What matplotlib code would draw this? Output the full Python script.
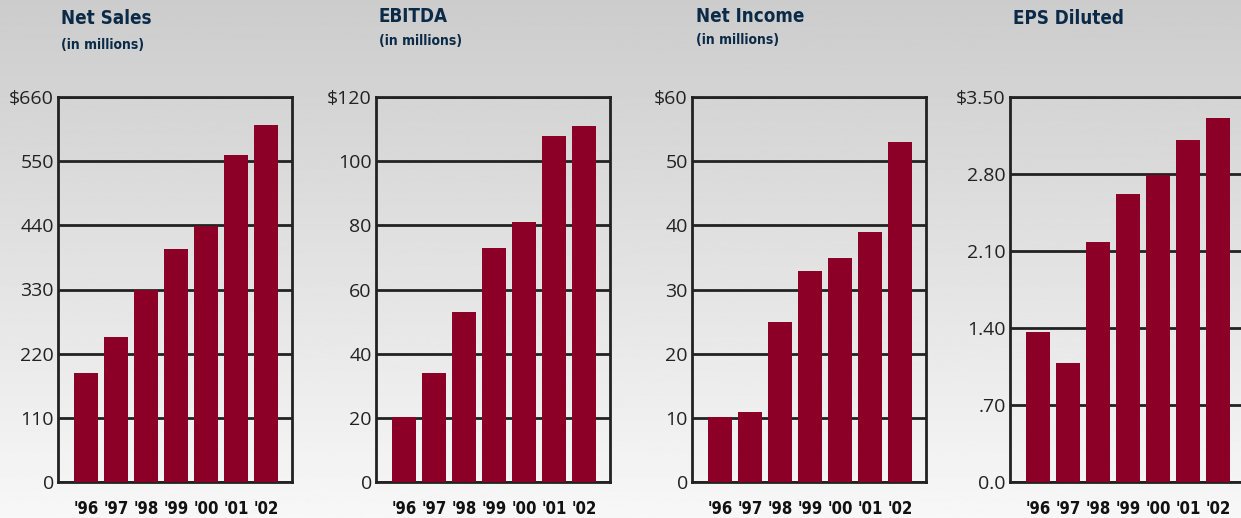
import numpy as np
import matplotlib
matplotlib.use("Agg")
import matplotlib.pyplot as plt

years = ["'96", "'97", "'98", "'99", "'00", "'01", "'02"]
net_sales = [187, 249, 329, 400, 439, 561, 612]
ebitda = [20.3, 34, 53, 73, 81, 108, 111]
net_income = [10.1, 10.9, 24.9, 32.9, 34.9, 39, 53]
eps = [1.36, 1.08, 2.18, 2.62, 2.79, 3.11, 3.31]

sales_ticks = [0, 110, 220, 330, 440, 550, 660]
sales_labels = ["0", "110", "220", "330", "440", "550", "$660"]
ebitda_ticks = [0, 20, 40, 60, 80, 100, 120]
ebitda_labels = ["0", "20", "40", "60", "80", "100", "$120"]
income_ticks = [0, 10, 20, 30, 40, 50, 60]
income_labels = ["0", "10", "20", "30", "40", "50", "$60"]
eps_ticks = [0, 0.7, 1.4, 2.1, 2.8, 3.5]
eps_labels = ["0.0", ".70", "1.40", "2.10", "2.80", "$3.50"]

titles = ["Net Sales", "EBITDA", "Net Income", "EPS Diluted"]
subtitles = ["(in millions)", "(in millions)", "(in millions)", None]

BAR = "#8c0028"
INK = "#222222"
NAVY = "#0b2a47"
W, H = 1241, 518
NARROW = dict(family="DejaVu Sans", stretch="condensed", weight="bold")

fig = plt.figure(figsize=(W / 100, H / 100), dpi=100)

# grey backdrop, darker at the top
bg = fig.add_axes([0, 0, 1, 1], zorder=-10)
grad = np.linspace(0.80, 0.97, 256).reshape(-1, 1)
bg.imshow(grad, cmap="gray", vmin=0, vmax=1, aspect="auto", extent=[0, 1, 0, 1])
bg.axis("off")

panels = [
    (58, net_sales, sales_ticks, sales_labels, 61, 18, 45),
    (376, ebitda, ebitda_ticks, ebitda_labels, 379, 17, 41),
    (692, net_income, income_ticks, income_labels, 696, 17, 40),
    (1010, eps, eps_ticks, eps_labels, 1013, 18, None),
]

for i, (left, vals, ticks, labels, tx, ty, sy) in enumerate(panels):
    ax = fig.add_axes([left / W, (H - 482) / H, 234 / W, 385 / H])
    ax.patch.set_alpha(0)
    x = np.arange(len(years))
    ax.bar(x, vals, width=0.8, color=BAR, zorder=3)
    ax.set_xlim(-0.93, 6.87)
    ax.set_ylim(ticks[0], ticks[-1])
    ax.set_yticks(ticks)
    ax.set_yticklabels(labels, fontsize=14, color=INK, family="Open Sans")
    ax.set_xticks(x)
    ax.set_xticklabels(years, fontsize=12, color="#111111", **NARROW)
    ax.tick_params(axis="y", length=0, pad=3)
    ax.tick_params(axis="x", length=0, pad=13)
    ax.grid(axis="y", color=INK, lw=2.0)
    ax.set_axisbelow(True)
    for sp in ax.spines.values():
        sp.set_color(INK)
        sp.set_linewidth(2.0)

    fig.text(tx / W, 1 - ty / H, titles[i], fontsize=13.5, color=NAVY,
             va="center", ha="left", **NARROW)
    if subtitles[i]:
        fig.text(tx / W, 1 - sy / H, subtitles[i], fontsize=10, color=NAVY,
                 va="center", ha="left", **NARROW)

fig.savefig("out.png", dpi=100)
